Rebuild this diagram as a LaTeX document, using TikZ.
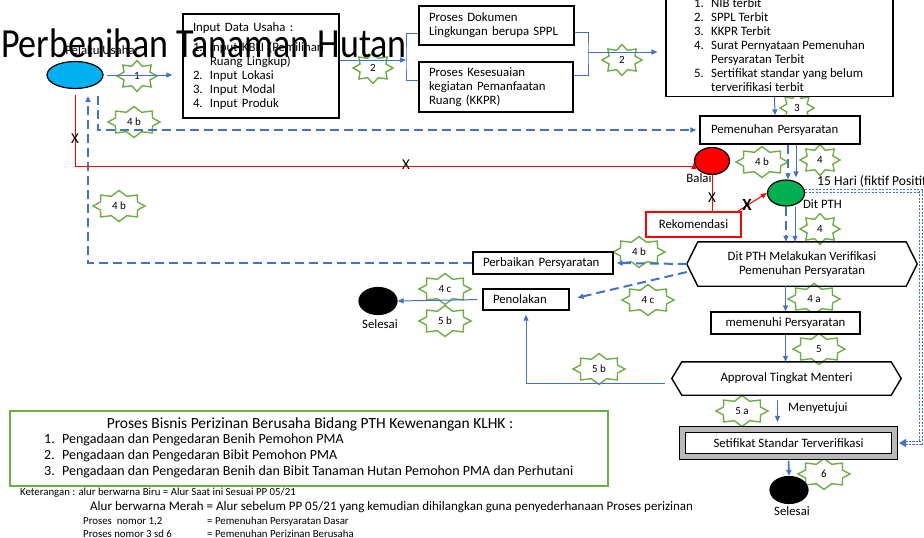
\documentclass[tikz,border=0pt]{standalone}
\usepackage{fontspec}
\setmainfont{Carlito}
\usetikzlibrary{shapes.geometric,arrows.meta,positioning}

\definecolor{flowblue}{HTML}{4472C4}
\definecolor{badgegreen}{HTML}{70AD47}
\definecolor{usahablue}{HTML}{00B0F0}
\definecolor{pthgreen}{HTML}{00B050}

\newcommand\numitem[1]{\makebox[17pt][l]{#1}}
\newcommand\boxfont{\fontsize{12.8}{14}\selectfont}

\tikzset{
  badge rx/.store in=\badgerx, badge rx=26,
  pics/badge/.style={code={
    \draw[draw=badgegreen, line width=1.4pt, fill=white] (\badgerx,0)
      foreach \i in {1,...,15}{ -- ({(\badgerx-6*mod(\i,2))*cos(\i*22.5)},{(15.5-5*mod(\i,2))*sin(\i*22.5)}) } -- cycle;
    \node[font=\fontsize{11}{12}\selectfont, inner sep=0] (-txt) {#1};
  }}
}

\begin{document}
\begin{tikzpicture}[x=1pt, y=-1pt, font=\boxfont,
  box/.style={draw, line width=1.4pt, fill=white, align=left, inner xsep=10pt, inner ysep=2pt},
  term/.style={ellipse, draw, line width=1.2pt, inner sep=0},
  flow/.style={draw=flowblue, line width=1pt, -{Triangle[length=6pt,width=5pt]}},
  dflow/.style={flow, line width=2pt, dash pattern=on 9pt off 5pt},
  thinblue/.style={draw=flowblue, line width=0.8pt},
  dotflow/.style={draw=flowblue, line width=1.4pt, double=white, double distance=1.6pt, dash pattern=on 2.2pt off 1.3pt, -{Triangle[length=7pt,width=8pt]}},
  redline/.style={draw=red, line width=1pt},
  redflow/.style={redline, -{Triangle[length=6pt,width=5pt]}},
  xmark/.style={font=\fontsize{15}{15}\selectfont, inner sep=0}]
\useasboundingbox (0,0) rectangle (924,538);

% stars with step numbers
\pic[badge rx=20] (s1) at (137,76) {badge=1};
\pic[badge rx=20] (s2a) at (373,68) {badge=2};
\pic[badge rx=20] (s2b) at (622,60) {badge=2};
\pic[badge rx=17] (s3) at (797,108) {badge=3};
\pic (s4b1) at (134,122) {badge=4 b};
\pic (s4b2) at (119,206) {badge=4 b};
\pic (s4b3) at (762,162) {badge=4 b};
\pic[badge rx=20] (s41) at (820,160) {badge=4};
\pic[badge rx=20] (s42) at (820,229) {badge=4};
\pic (s4b4) at (639,252) {badge=4 b};
\pic (s4c1) at (648,300) {badge=4 c};
\pic (s4c2) at (445,289) {badge=4 c};
\pic (s5b1) at (445,321) {badge=5 b};
\pic (s5b2) at (599,369) {badge=5 b};
\pic (s4a) at (814,299) {badge=4 a};
\pic (s5) at (819,349) {badge=5};
\pic (s5a) at (742,411) {badge=5 a};
\pic (s6) at (824,474) {badge=6};

% boxes
\node[box, text width=136pt, minimum height=104pt] (input) at (261,66) {Input Data Usaha :\\[6pt]
  \numitem{1.}Input KBLI (Pemilihan\\ \numitem{}Ruang Lingkup)\\ \numitem{2.}Input Lokasi\\
  \numitem{3.}Input Modal\\ \numitem{4.}Input Produk};
\node[box, text width=135pt, minimum height=39pt] (dokumen) at (496.5,25.5) {Proses Dokumen\\ Lingkungan berupa SPPL};
\node[box, text width=134pt, minimum height=50pt] (kkpr) at (496,87) {Proses Kesesuaian\\ kegiatan Pemanfaatan\\ Ruang (KKPR)};
\node[box, anchor=south, inner xsep=28pt, inner ysep=5pt] (output) at (779.5,97) {\numitem{1.}NIB terbit\\
  \numitem{2.}SPPL Terbit\\ \numitem{3.}KKPR Terbit\\ \numitem{4.}Surat Pernyataan Pemenuhan\\
  \numitem{}Persyaratan Terbit\\ \numitem{5.}Sertifikat standar yang belum\\ \numitem{}terverifikasi terbit};
\node[box, text width=138pt, inner xsep=11pt, minimum height=28pt] (pemenuhan) at (780,130) {Pemenuhan Persyaratan};
\node[box, text width=120pt, minimum height=22pt] (perbaikan) at (543,263) {Perbaikan Persyaratan};
\node[box, text width=66pt, minimum height=21pt] (penolakan) at (526,299.5) {Penolakan};
\node[box, align=center, minimum width=149pt, minimum height=22pt] (memenuhi) at (785.5,323) {memenuhi Persyaratan};
\node[box, draw=red, line width=1.2pt, align=center, minimum width=95pt, minimum height=25pt] (rekom) at (693.5,224.5) {Rekomendasi};
\node[align=center, minimum width=230pt, minimum height=44pt] (verif) at (802,264) {Dit PTH Melakukan Verifikasi\\ Pemenuhan Persyaratan};
\node[minimum width=229pt, minimum height=33pt] (approval) at (786.5,378.5) {Approval Tingkat Menteri};
\foreach \hx/\tip in {verif/11, approval/10}
  \draw[line width=1.4pt] (\hx.west) -- ([xshift=\tip pt]\hx.north west) -- ([xshift=-\tip pt]\hx.north east)
    -- (\hx.east) -- ([xshift=-\tip pt]\hx.south east) -- ([xshift=\tip pt]\hx.south west) -- cycle;
\node[draw, line width=1.1pt, double=gray!55, double distance=5pt, fill=white, minimum width=212pt, minimum height=27pt] (sertif) at (788.5,443) {Setifikat Standar Terverifikasi};

% start, offices, end
\node[term, fill=usahablue, minimum width=56pt, minimum height=27pt] (pelaku) at (75,75) {};
\node[term, fill=red, minimum width=35pt, minimum height=27pt] (balai) at (712,161) {};
\node[term, fill=pthgreen, minimum width=37pt, minimum height=26pt] (ditpth) at (786,193) {};
\node[term, fill=black, minimum width=38pt, minimum height=27pt] (selesaiA) at (378,301) {};
\node[term, fill=black, minimum width=38pt, minimum height=27pt] (selesaiB) at (789,490) {};
\node (lblUsaha) at (100,50) {Pelaku Usaha};
\node (lblBalai) at (699,178) {Balai};
\node (lblDit) at (822.5,204) {Dit PTH};
\node (lblSelesaiA) at (380,324) {Selesai};
\node (lblSelesaiB) at (792,511) {Selesai};
\node[anchor=west, inner sep=0, font=\fontsize{13.6}{14}\selectfont] (lblHari) at (817,181) {15 Hari (fiktif Positif)};
\node[anchor=west, inner sep=0] (lblSetuju) at (788,408) {Menyetujui};

% blue flow
\draw[flow, shorten <=3pt, shorten >=10pt] (pelaku.east) -- (pelaku.east -| input.west);
\coordinate (brkL) at (406,60);
\coordinate (brkR) at (588,52);
\draw[flow] (input.east |- brkL) -- (brkL);
\draw[thinblue] (dokumen.west |- 0,33) -| (brkL) |- (kkpr.west |- 0,80);
\draw[thinblue] (dokumen.east |- 0,32) -| (brkR) |- (kkpr.east |- 0,75);
\draw[flow, shorten >=8pt] (brkR) -- (brkR -| output.west);
\draw[flow] ([xshift=-5pt]output.south) -- ([xshift=-5pt]pemenuhan.north);
\draw[dflow, shorten >=3pt] ([xshift=23pt,yshift=-7pt]pelaku.south) |- (pemenuhan.west);
\draw[dflow] (perbaikan.west) -| ([xshift=13pt,yshift=-7pt]pelaku.south);
\draw[dflow] ([xshift=8pt]pemenuhan.south) -- ([xshift=2pt]ditpth.north);
\draw[flow] ([xshift=16pt]pemenuhan.south) -- ([xshift=10pt,yshift=2pt]ditpth.north);
\draw[dflow] (ditpth.south) -- (ditpth.south |- verif.north);
\draw[flow] ([xshift=9pt]ditpth.south) -- ([xshift=9pt]ditpth.south |- verif.north);
\draw[dotflow, shorten >=4pt] ([yshift=2pt]ditpth.east) -| ([xshift=26pt]sertif.east) -- (sertif.east);
\draw[dflow, shorten >=3pt] (verif.west) -- (perbaikan.east);
\draw[dflow, shorten >=8pt] ([yshift=-8pt]verif.west) -- (penolakan.east);
\draw[flow, shorten <=5pt] (penolakan.west) -- (selesaiA.east);
\draw[flow, shorten >=4pt] ([xshift=-7pt,yshift=-5pt]approval.west) -| (penolakan.south);
\draw[flow] (memenuhi.north |- verif.south) -- (memenuhi.north);
\draw[flow] (memenuhi.south) -- (memenuhi.south |- approval.north);
\draw[flow, shorten <=5pt, shorten >=7pt] ([xshift=-9pt]approval.south) -- ([xshift=-9pt]approval.south |- sertif.north);
\draw[flow, line width=1.6pt, shorten <=3.5pt] (sertif.south) -- (selesaiB.north);

% red flow (old)
\draw[redflow, shorten >=2pt] ([yshift=-6pt]pelaku.south) |- ([yshift=-5pt]balai.west) -- (balai.west);
\draw[redline] (balai.south) -- (balai.south |- rekom.north);
\draw[redflow] ([xshift=-4pt]rekom.north east) -- (ditpth.west);
\node[xmark] (xA) at (75,139) {X};
\node[xmark] (xB) at (406,165) {X};
\node[xmark] (xC) at (712,198) {X};
\node[xmark, font=\fontsize{17}{17}\selectfont\bfseries] (xD) at (747,205) {X};

% legend
\node[draw=badgegreen, line width=2pt, minimum width=598pt, minimum height=75pt] (legend) at (309,448.5) {};
\node[font=\fontsize{15.5}{17}\selectfont] (legendTitle) at (310,424) {Proses Bisnis Perizinan Berusaha Bidang PTH Kewenangan KLHK :};
\node[anchor=west, inner sep=0, align=left, font=\fontsize{14}{16}\selectfont] (legendList) at (44,456) {\makebox[18pt][l]{1.}Pengadaan dan Pengedaran Benih Pemohon PMA\\
  \makebox[18pt][l]{2.}Pengadaan dan Pengedaran Bibit Pemohon PMA\\
  \makebox[18pt][l]{3.}Pengadaan dan Pengedaran Benih dan Bibit Tanaman Hutan Pemohon PMA dan Perhutani};
\begin{scope}[every node/.style={anchor=base west, inner sep=0, font=\fontsize{10.8}{12}\selectfont}]
\node (ket1) at (20,495) {Keterangan : alur berwarna Biru = Alur Saat ini Sesuai PP 05/21};
\node[font=\fontsize{13}{14}\selectfont] (ket2) at (90,510) {Alur berwarna Merah = Alur sebelum PP 05/21 yang kemudian dihilangkan guna penyederhanaan Proses perizinan};
\node (ket3) at (83,524) {Proses\ \ nomor 1,2};
\node (ket3b) at (207,524) {= Pemenuhan Persyaratan Dasar};
\node (ket4) at (83,537) {Proses nomor 3 sd 6};
\node (ket4b) at (207,537) {= Pemenuhan Perizinan Berusaha};
\end{scope}

\node[font=\fontsize{36}{40}\selectfont, anchor=base, inner sep=0] (title) at (204,57) {\scalebox{1}[1.15]{Perbenihan Tanaman Hutan}};
\end{tikzpicture}
\end{document}
